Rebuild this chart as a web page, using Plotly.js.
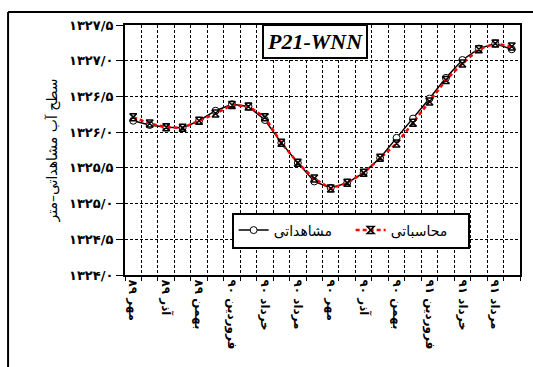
<!DOCTYPE html>
<html>
<head>
<meta charset="utf-8">
<script src="https://cdn.plot.ly/plotly-3.0.1.min.js"></script>
<style>
html,body{margin:0;padding:0;background:#fff;}
#chart{width:533px;height:367px;}
</style>
</head>
<body>
<div id="chart"></div>
<script>
var months = ["مهر ۸۹","آبان ۸۹","آذر ۸۹","دی ۸۹","بهمن ۸۹","اسفند ۸۹","فروردین ۹۰","اردیبهشت ۹۰","خرداد ۹۰","تیر ۹۰","مرداد ۹۰","شهریور ۹۰","مهر ۹۰","آبان ۹۰","آذر ۹۰","دی ۹۰","بهمن ۹۰","اسفند ۹۰","فروردین ۹۱","اردیبهشت ۹۱","خرداد ۹۱","تیر ۹۱","مرداد ۹۱","شهریور ۹۱"];
var monthLabels = ["مهر ۸۹","","آذر ۸۹","","بهمن ۸۹","","فروردین ۹۰","","خرداد ۹۰","","مرداد ۹۰","","مهر ۹۰","","آذر ۹۰","","بهمن ۹۰","","فروردین ۹۱","","خرداد ۹۱","","مرداد ۹۱",""];
var observed = [1326.16,1326.10,1326.07,1326.06,1326.16,1326.30,1326.39,1326.36,1326.17,1325.85,1325.57,1325.31,1325.22,1325.29,1325.43,1325.64,1325.92,1326.19,1326.47,1326.76,1327.01,1327.17,1327.24,1327.16];
var calculated = [1326.21,1326.12,1326.07,1326.06,1326.16,1326.26,1326.38,1326.36,1326.21,1325.85,1325.57,1325.35,1325.21,1325.29,1325.43,1325.64,1325.84,1326.13,1326.43,1326.73,1326.96,1327.16,1327.24,1327.20];
var yTickVals = [1324.0,1324.5,1325.0,1325.5,1326.0,1326.5,1327.0,1327.5];
var yTickText = ["۱۳۲۴/۰","۱۳۲۴/۵","۱۳۲۵/۰","۱۳۲۵/۵","۱۳۲۶/۰","۱۳۲۶/۵","۱۳۲۷/۰","۱۳۲۷/۵"];
var nameObserved = "مشاهداتی";
var nameCalculated = "محاسباتی";
var chartTitle = "P21-WNN";
var yTitle = "سطح آب مشاهداتی–متر";

var fa = "DejaVu Sans, sans-serif";

var traces = [
  {
    x: months, y: observed, name: nameObserved, type: "scatter", mode: "lines+markers",
    line: {color: "#000", width: 1.5},
    marker: {symbol: "circle", size: 7, color: "#fff", line: {color: "#000", width: 1}}
  },
  {
    x: months, y: calculated, name: nameCalculated, type: "scatter", mode: "lines+markers",
    line: {color: "#ff0000", width: 2.5, dash: "4px,3px"},
    marker: {symbol: "hourglass-open", size: 7, color: "#000", line: {color: "#000", width: 1.5}}
  }
];

var layout = {
  width: 533, height: 367,
  margin: {l: 125, r: 13, t: 25, b: 92},
  paper_bgcolor: "#fff", plot_bgcolor: "#fff",
  showlegend: true,
  legend: {
    orientation: "h", x: 0.27, y: 0.25, xanchor: "left", yanchor: "top",
    bgcolor: "#fff", bordercolor: "#000", borderwidth: 2,
    font: {family: fa, size: 14, color: "#000"},
    traceorder: "normal", entrywidth: 72, entrywidthmode: "pixels"
  },
  xaxis: {
    type: "category",
    tickmode: "array", tickvals: months, ticktext: monthLabels,
    tickson: "boundaries", tickangle: 90,
    ticks: "outside", ticklen: 4, tickwidth: 1, tickcolor: "#000",
    showgrid: true, gridcolor: "#000", gridwidth: 1, griddash: "3px,2px",
    showline: true, linecolor: "#000", linewidth: 2, mirror: true,
    tickfont: {family: fa, size: 12, color: "#000", weight: "bold"},
    range: [-0.5, 23.5], fixedrange: true
  },
  yaxis: {
    range: [1324, 1327.5],
    tickmode: "array", tickvals: yTickVals, ticktext: yTickText,
    ticks: "outside", ticklen: 7, tickwidth: 1, tickcolor: "#000",
    showgrid: true, gridcolor: "#000", gridwidth: 1, griddash: "3px,2px",
    showline: true, linecolor: "#000", linewidth: 2, mirror: true,
    zeroline: false,
    tickfont: {family: fa, size: 13, color: "#000", weight: "bold"},
    title: {text: yTitle, font: {family: fa, size: 14, color: "#000"}, standoff: 8},
    fixedrange: true
  },
  annotations: [{
    xref: "paper", yref: "paper", x: 0.48, y: 0.932, xanchor: "center", yanchor: "middle",
    text: "<b><i>" + chartTitle + "</i></b>", showarrow: false,
    font: {family: "Liberation Serif, Times New Roman, serif", size: 22, color: "#000"},
    bgcolor: "#fff", bordercolor: "#000", borderwidth: 2, borderpad: 3
  }],
  shapes: [
    {type: "line", xref: "paper", yref: "paper", x0: -0.296, x1: 1.1, y0: 1.052, y1: 1.052,
     line: {color: "#000", width: 2}, layer: "above"},
    {type: "line", xref: "paper", yref: "paper", x0: -0.296, x1: -0.296, y0: 1.052, y1: -0.5,
     line: {color: "#000", width: 2}, layer: "above"}
  ]
};

Plotly.newPlot("chart", traces, layout, {staticPlot: true, displayModeBar: false});
</script>
</body>
</html>
